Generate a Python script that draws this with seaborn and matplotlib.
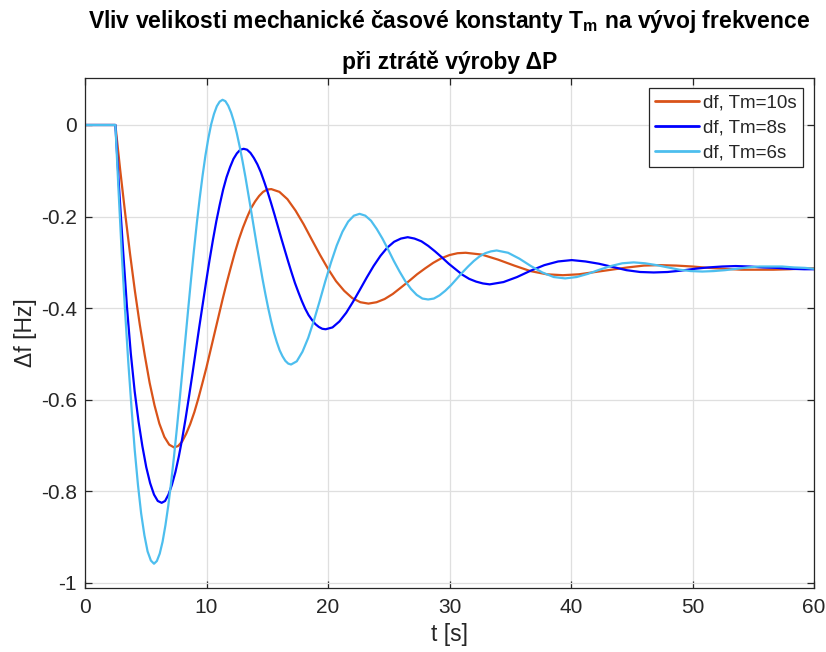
import matplotlib
matplotlib.use("Agg")
import matplotlib.pyplot as plt
import seaborn as sns
import pandas as pd

# ---- data ----
series_names = ["df, Tm=10s", "df, Tm=8s", "df, Tm=6s"]
series_colors = ["#D95319", "#0000FF", "#4DBEEE"]

t_tm10 = [0, 2.5, 2.90, 3.31, 3.71, 4.11, 4.51, 4.92, 5.32, 5.72, 6.12, 6.53, 6.93, 7.33,
          7.66, 8.00, 8.33, 8.66, 9.00, 9.33, 9.66, 10.00, 10.33, 10.66, 11.00, 11.33, 11.66, 12.00,
          12.33, 12.66, 13.00, 13.33, 13.66, 14.00, 14.33, 14.66, 15.00, 15.33,
          16.00, 16.66, 17.33, 18.00, 18.66, 19.33, 20.00, 20.66, 21.33, 22.00, 22.66, 23.33,
          24.00, 24.66, 25.33, 26.00, 26.66, 27.33, 28.00, 28.66, 29.33, 30.00, 30.66, 31.33,
          32.66, 34.00, 35.33, 36.66, 38.00, 39.33, 40.66, 42.00, 43.33, 44.66, 46.00, 47.33,
          48.66, 50.00, 51.33, 52.66, 54.00, 55.33, 56.66, 58.00, 59.33, 60.0]
df_tm10 = [0, 0, -0.099, -0.194, -0.282, -0.363, -0.436, -0.503, -0.563, -0.612, -0.652, -0.681, -0.698, -0.704,
           -0.701, -0.691, -0.674, -0.653, -0.627, -0.597, -0.564, -0.529, -0.492, -0.455, -0.417, -0.380, -0.345, -0.311,
           -0.279, -0.250, -0.224, -0.202, -0.182, -0.167, -0.155, -0.146, -0.141, -0.140,
           -0.146, -0.162, -0.187, -0.217, -0.250, -0.283, -0.314, -0.341, -0.362, -0.378, -0.387, -0.390,
           -0.387, -0.380, -0.369, -0.355, -0.341, -0.326, -0.313, -0.301, -0.291, -0.284, -0.280, -0.279,
           -0.283, -0.294, -0.307, -0.319, -0.326, -0.328, -0.326, -0.321, -0.316, -0.311, -0.307, -0.306,
           -0.307, -0.309, -0.312, -0.314, -0.316, -0.316, -0.316, -0.315, -0.313, -0.313]

t_tm8 = [0, 2.5, 2.82, 3.14, 3.45, 3.77, 4.09, 4.41, 4.72, 5.04, 5.36, 5.68, 5.99, 6.31,
         6.59, 6.87, 7.15, 7.44, 7.72, 8.00, 8.28, 8.56, 8.84, 9.12, 9.40, 9.69, 9.97, 10.25,
         10.53, 10.81, 11.09, 11.37, 11.65, 11.94, 12.22, 12.50, 12.78, 13.06, 13.34, 13.62,
         13.90, 14.19, 14.47, 14.75, 15.03, 15.31, 15.59, 15.87, 16.15, 16.44, 16.72, 17.00,
         17.28, 17.56, 17.84, 18.12, 18.40, 18.69, 18.97, 19.25, 19.53, 19.81,
         20.37, 20.94, 21.50, 22.06, 22.62, 23.19, 23.75, 24.31, 24.87, 25.44, 26.00, 26.56,
         27.12, 27.69, 28.25, 28.81, 29.37, 29.94, 30.50, 31.06, 31.62, 32.19, 32.75, 33.31,
         34.44, 35.56, 36.69, 37.81, 38.94, 40.06, 41.19, 42.31, 43.44, 44.56, 45.69, 46.81,
         47.94, 49.06, 50.19, 51.31, 52.44, 53.56, 54.69, 55.81, 56.94, 58.06, 59.19, 60.0]
df_tm8 = [0, 0, -0.144, -0.276, -0.396, -0.499, -0.582, -0.648, -0.701, -0.747, -0.782, -0.807, -0.821, -0.825,
          -0.821, -0.807, -0.786, -0.758, -0.724, -0.685, -0.641, -0.593, -0.544, -0.493, -0.442, -0.391, -0.342, -0.295,
          -0.251, -0.210, -0.174, -0.141, -0.114, -0.092, -0.074, -0.062, -0.054, -0.052, -0.054, -0.061,
          -0.072, -0.086, -0.103, -0.124, -0.146, -0.170, -0.195, -0.221, -0.247, -0.273, -0.298, -0.322,
          -0.345, -0.365, -0.384, -0.401, -0.415, -0.426, -0.435, -0.441, -0.445, -0.446,
          -0.442, -0.429, -0.410, -0.386, -0.360, -0.333, -0.308, -0.286, -0.268, -0.255, -0.248, -0.245,
          -0.248, -0.254, -0.264, -0.276, -0.289, -0.303, -0.315, -0.327, -0.336, -0.342, -0.346, -0.348,
          -0.343, -0.332, -0.318, -0.306, -0.298, -0.295, -0.298, -0.303, -0.310, -0.317, -0.321, -0.322,
          -0.321, -0.318, -0.314, -0.311, -0.309, -0.308, -0.309, -0.311, -0.312, -0.314, -0.315, -0.315]

t_tm6 = [0, 2.5, 2.77, 3.03, 3.30, 3.56, 3.83, 4.09, 4.36, 4.62, 4.89, 5.15, 5.42, 5.68,
         5.915, 6.15, 6.385, 6.62, 6.855, 7.09, 7.325, 7.56, 7.795, 8.03, 8.265, 8.50, 8.735, 8.97,
         9.205, 9.44, 9.675, 9.91, 10.145, 10.38, 10.615, 10.85, 11.085, 11.32, 11.555, 11.79,
         12.025, 12.26, 12.495, 12.73, 12.965, 13.20, 13.435, 13.67, 13.905, 14.14, 14.375, 14.61,
         14.845, 15.08, 15.315, 15.55, 15.785, 16.02, 16.255, 16.49, 16.725, 16.96,
         17.43, 17.90, 18.37, 18.84, 19.31, 19.78, 20.25, 20.72, 21.19, 21.66, 22.13, 22.60,
         23.07, 23.54, 24.01, 24.48, 24.95, 25.42, 25.89, 26.36, 26.83, 27.30, 27.77, 28.24,
         28.71, 29.18, 29.65, 30.12, 30.59, 31.06, 31.53, 32.00, 32.47, 32.94, 33.41, 33.88,
         34.82, 35.76, 36.70, 37.64, 38.58, 39.52, 40.46, 41.40, 42.34, 43.28, 44.22, 45.16,
         46.10, 47.04, 47.98, 48.92, 49.86, 50.80, 51.74, 52.68, 53.62, 54.56, 55.50, 56.44,
         57.38, 58.32, 59.26, 60.0]
df_tm6 = [0, 0, -0.148, -0.283, -0.407, -0.517, -0.618, -0.709, -0.786, -0.848, -0.896, -0.931, -0.951, -0.958,
          -0.952, -0.936, -0.910, -0.874, -0.831, -0.780, -0.724, -0.663, -0.599, -0.533, -0.467, -0.400, -0.335, -0.273,
          -0.214, -0.160, -0.111, -0.067, -0.030, 0.001, 0.024, 0.041, 0.051, 0.055, 0.052, 0.042,
          0.027, 0.007, -0.018, -0.047, -0.079, -0.113, -0.150, -0.187, -0.225, -0.263, -0.300, -0.336,
          -0.369, -0.400, -0.428, -0.453, -0.474, -0.492, -0.505, -0.515, -0.521, -0.523,
          -0.516, -0.495, -0.465, -0.427, -0.385, -0.341, -0.300, -0.263, -0.233, -0.211, -0.198, -0.194,
          -0.198, -0.209, -0.227, -0.248, -0.272, -0.297, -0.320, -0.341, -0.358, -0.371, -0.379, -0.381,
          -0.379, -0.372, -0.362, -0.350, -0.336, -0.322, -0.309, -0.297, -0.287, -0.280, -0.276, -0.274,
          -0.279, -0.292, -0.308, -0.322, -0.332, -0.335, -0.332, -0.325, -0.316, -0.308, -0.302, -0.300,
          -0.302, -0.306, -0.311, -0.316, -0.319, -0.320, -0.319, -0.317, -0.314, -0.311, -0.309, -0.309,
          -0.309, -0.311, -0.312, -0.314]

x_ticks = [0, 10, 20, 30, 40, 50, 60]
y_ticks = [-1, -0.8, -0.6, -0.4, -0.2, 0]
y_tick_labels = ["-1", "-0.8", "-0.6", "-0.4", "-0.2", "0"]

title_line1 = r"Vliv velikosti mechanické časové konstanty T$_\mathbf{m}$ na vývoj frekvence"
title_line2 = "při ztrátě výroby ΔP"
x_label = "t [s]"
y_label = "Δf [Hz]"

# ---- build table ----
frames = []
for name, tt, vv in zip(series_names, [t_tm10, t_tm8, t_tm6], [df_tm10, df_tm8, df_tm6]):
    frames.append(pd.DataFrame({"t": tt, "df": vv, "series": name}))
data = pd.concat(frames, ignore_index=True)

sns.set_theme(style="white")
plt.rcParams["font.family"] = ["Liberation Sans", "DejaVu Sans"]
plt.rcParams["mathtext.fontset"] = "custom"
plt.rcParams["mathtext.rm"] = "Liberation Sans"
plt.rcParams["mathtext.bf"] = "Liberation Sans:bold"
plt.rcParams["mathtext.it"] = "Liberation Sans:italic"

W, H = 826, 652
fig = plt.figure(figsize=(W / 100, H / 100), dpi=100)
ax = fig.add_axes([85 / W, 1 - 588 / H, 729 / W, 510 / H])

sns.lineplot(data=data, x="t", y="df", hue="series", hue_order=series_names,
             palette=dict(zip(series_names, series_colors)), sort=False,
             estimator=None, linewidth=1.6, ax=ax, solid_joinstyle="round")

ax.set_xlim(0, 60)
ax.set_ylim(-1.011, 0.1026)
ax.set_xticks(x_ticks)
ax.set_xticklabels([str(v) for v in x_ticks])
ax.set_yticks(y_ticks)
ax.set_yticklabels(y_tick_labels)

spine_c = "#262626"
for s in ax.spines.values():
    s.set_visible(True)
    s.set_color(spine_c)
    s.set_linewidth(0.9)
ax.tick_params(axis="both", which="major", direction="in", length=5, width=0.9,
               color=spine_c, labelcolor=spine_c, labelsize=15,
               top=True, right=True, bottom=True, left=True)
ax.tick_params(axis="x", pad=7)
ax.tick_params(axis="y", pad=6)
ax.grid(True, color="#dfdfdf", linewidth=0.9)
ax.set_axisbelow(True)

ax.set_xlabel(x_label, fontsize=16.5, color=spine_c)
ax.set_ylabel(y_label, fontsize=16.5, color=spine_c)
ax.xaxis.set_label_coords(0.5, -0.068)
ax.yaxis.set_label_coords(-0.066, 0.5)

handles, labels = ax.get_legend_handles_labels()
leg = ax.legend(handles, labels, loc="upper right", bbox_to_anchor=((803 - 85) / 729, (588 - 88) / 510),
                borderaxespad=0, frameon=True, fancybox=False, framealpha=1,
                edgecolor=spine_c, fontsize=13.5, handlelength=2.35, handletextpad=0.25,
                labelspacing=0.42, borderpad=0.32)
leg.get_frame().set_linewidth(0.9)
for h in leg.get_lines():
    h.set_linewidth(2.0)

cx = (85 + 814) / 2 / W
fig.text(cx, 1 - 28 / H, title_line1, ha="center", va="baseline", fontsize=16.5,
         fontweight="bold", color="black")
fig.text(cx, 1 - 69 / H, title_line2, ha="center", va="baseline", fontsize=16.5,
         fontweight="bold", color="black")

fig.savefig("out.png", dpi=100)
